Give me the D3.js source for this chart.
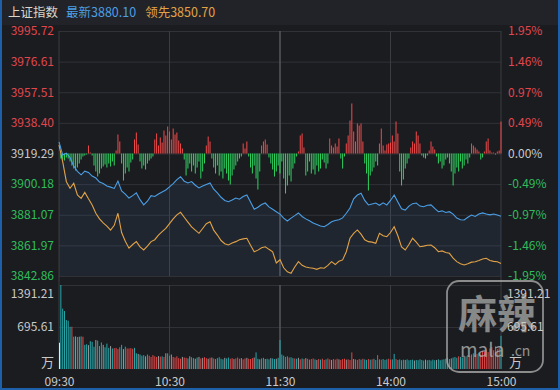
<!DOCTYPE html>
<html><head><meta charset="utf-8">
<script src="https://cdn.jsdelivr.net/npm/d3@7"></script>
<style>
html,body{margin:0;padding:0;background:#1b1c20;}
svg{display:block;}
text{font-family:"Noto Sans CJK SC","Noto Sans",sans-serif;}
</style></head><body>
<svg id="c" width="560" height="390"></svg>
<script>
// ---------- data ----------
const title = "上证指数";
const latestLabel = "最新3880.10";
const leadLabel = "领先3850.70";
const preClose = 3919.29;
const priceTicks = [3995.72, 3976.61, 3957.51, 3938.40, 3919.29, 3900.18, 3881.07, 3861.97, 3842.86];
const pctTicks = ["1.95%", "1.46%", "0.97%", "0.49%", "0.00%", "-0.49%", "-0.97%", "-1.46%", "-1.95%"];
const volTicks = [1391.21, 695.61];
const volUnit = "万";
const timeTicks = [0, 60, 120, 180, 240];
const timeLabels = ["09:30", "10:30", "11:30", "14:00", "15:00"];

// index (最新) sampled every 2 minutes, 121 points
const latest = [3926.6,3918.4,3919.5,3916.8,3911.5,3908.2,3906.0,3908.3,3907.5,3905.2,
3904.0,3901.5,3900.6,3899.0,3898.3,3897.5,3902.1,3896.0,3894.0,3891.5,
3893.0,3894.7,3890.5,3887.2,3889.5,3893.0,3892.5,3894.0,3895.3,3896.5,
3898.5,3900.5,3903.0,3904.8,3902.0,3900.9,3901.8,3899.5,3897.8,3899.0,
3900.0,3900.9,3897.0,3894.7,3892.0,3890.0,3889.2,3890.3,3891.5,3890.8,
3892.5,3893.4,3889.0,3884.5,3885.8,3887.5,3888.4,3886.0,3884.5,3883.0,
3881.5,3879.0,3877.2,3879.0,3880.5,3882.2,3880.0,3878.5,3877.3,3875.9,
3875.0,3874.0,3873.6,3875.0,3876.7,3877.5,3878.0,3879.1,3882.0,3885.3,
3891.0,3893.4,3894.5,3890.0,3887.2,3887.8,3888.4,3887.0,3888.5,3887.2,
3890.0,3893.4,3889.0,3884.8,3884.0,3886.5,3888.0,3888.4,3886.5,3886.1,
3887.0,3887.2,3885.0,3883.0,3883.5,3882.5,3883.0,3881.5,3879.0,3878.0,
3877.8,3879.5,3880.9,3880.0,3881.5,3882.2,3881.5,3881.0,3881.5,3880.9,3880.1];

// lead (领先) sampled every 2 minutes, 121 points
const lead = [3924.6,3914.2,3901.7,3897.6,3900.7,3893.4,3891.3,3895.0,3891.0,3887.2,
3882.0,3878.5,3876.0,3874.0,3871.5,3874.5,3882.0,3870.0,3864.5,3860.2,
3862.5,3864.3,3861.0,3859.1,3861.5,3864.3,3865.5,3868.4,3870.5,3872.6,
3875.5,3878.5,3881.0,3882.6,3879.5,3876.5,3873.5,3871.5,3869.5,3872.5,
3875.5,3876.7,3871.5,3868.4,3865.0,3863.0,3862.2,3863.5,3864.3,3865.5,
3866.0,3866.4,3862.0,3858.0,3859.0,3860.5,3861.1,3859.5,3858.0,3851.0,
3853.0,3848.0,3845.5,3844.6,3848.5,3851.8,3849.5,3848.5,3848.0,3847.7,
3847.0,3848.0,3847.7,3849.5,3851.8,3850.0,3852.0,3852.9,3858.0,3866.4,
3869.5,3871.6,3869.0,3865.5,3864.3,3864.0,3863.3,3869.5,3868.0,3867.4,
3870.0,3873.6,3868.0,3861.0,3859.1,3862.5,3866.4,3864.0,3861.1,3861.5,
3862.0,3862.2,3860.5,3858.0,3858.5,3857.5,3857.0,3854.0,3851.8,3850.5,
3849.7,3850.5,3851.5,3851.8,3852.5,3853.5,3853.9,3852.5,3852.0,3851.8,3850.7];

// buy/sell strength bars per minute (240), positive = red
const strength = [-5,-6,-7,-4,-5,-8,-12,-15,-17,-14,-10,-6,-3,-2,
-1,8,1,-2,
-12,-18,-23,-20,-15,-13,-11,-14,-10,-13,-8,-12,3,19,12,
-10,-27,-20,-14,-18,-9,-6,14,21,9,
-8,-15,-12,-16,-10,-7,-5,-3,
14,20,8,16,11,23,18,27,22,14,25,19,21,13,10,5,
-6,-22,-15,-10,-18,-12,-20,-14,-8,-25,-18,-10,
8,17,12,
-5,-14,-20,-12,-22,-18,-25,-15,-20,-27,-31,-22,-16,-12,-8,-5,-3,
10,5,12,
-3,-14,-20,-12,-25,-36,-18,
8,12,14,9,
-4,-10,-16,-23,-18,-12,-20,-8,-25,-40,-32,-22,-28,-15,-10,
-3,2,
18,20,6,
-22,-18,-8,-20,-16,-21,-12,-18,-15,-6,-9,-15,-10,
15,8,6,10,7,15,
-5,-15,-3,
10,18,33,50,22,12,30,28,30,12,
-10,-20,-37,-22,-18,-14,-8,-12,
10,25,8,3,9,10,11,18,12,32,20,
-18,-32,-26,-15,-10,-5,
6,12,10,22,18,10,
-2,-4,-5,-2,3,
12,7,4,
-3,-10,-8,-15,-12,-6,-4,-10,-18,-32,-20,-14,-18,-8,-15,-12,-6,-10,-4,
10,8,6,4,2,
-6,-4,
2,12,15,3,
1,1,-1,2,3,
32];

// volume (万) per minute, index 0 = opening auction, 241 values
const volume = [435,
1391,1000,960,810,800,700,700,535,
540,530,535,540,535,
400,410,395,460,450,370,480,470,380,
440,400,360,420,350,380,
340,345,350,330,
360,400,330,370,340,
340,345,335,350,
260,250,240,220,230,210,240,220,200,230,210,200,215,205,210,200,260,
260,220,240,
200,190,210,180,170,200,190,185,175,210,195,180,170,190,200,175,185,195,180,
170,185,190,175,165,180,195,170,160,185,175,190,170,180,165,175,190,170,180,160,
175,185,170,165,180,190,275,170,160,175,185,165,170,160,180,175,165,170,185,
480,
240,220,200,210,190,195,180,175,170,185,160,175,165,180,170,155,165,175,160,150,
165,155,170,150,160,175,160,150,165,155,170,160,150,165,170,155,160,150,275,165,
160,150,165,155,170,160,150,165,155,160,170,150,230,160,155,165,150,160,170,155,
160,250,165,150,160,145,155,150,160,145,150,155,140,150,145,160,150,140,155,145,
150,140,155,145,150,160,145,155,160,170,180,165,175,190,200,185,210,200,190,220,
210,230,215,240,260,230,250,270,240,300,290,320,280,340,360,310,375,330,350,550];

// volume direction per minute: u = up, d = down, f = flat
const volDir = ("f"+"dddddd"+"u"+"dfdfd"+"u"+"ddfdddfdddfdddfd"+"uuu"+"ddfd"+"uuuu"+"ddfdddfd"+"uuuuu"+
"fudufdufu"+"uuuufuu"+"dfddfdf"+"ufuufufu"+"dddddfdd"+"uufuuufuufuuufd"+"dfddfddfddfd"+"d"+
"ddududdudf"+"udufuduudfuduud"+"uufuuufuuufuuufuuu"+"duddududdududdduuddud"+
"dddfddddfdddddfdddddfddddd"+"ddfdddudd fduudduuduu".replace(" ","")+"uuuuuuuuud").split("");

// ---------- layout ----------
const W = 560, H = 390;
const L = 59, R = 501, T = 31, B = 276, VT = 285, VB = 369;
const C = {bg:"#1b1c20", head:"#222328", grid:"#303237", frame:"#3a3c41", red:"#e2474d", green:"#2fbd5b",
  white:"#c9c9c9", blue:"#4b9fe6", orange:"#e2a246", barRed:"#f04a4a", barGreen:"#2fd160",
  volUp:"#e24848", volDown:"#27a7a9", volFlat:"#9a9a9a"};

const svg = d3.select("#c");
svg.append("rect").attr("width", W).attr("height", H).attr("fill", C.bg);
svg.append("rect").attr("width", W).attr("height", 25).attr("fill", C.head);

const x = d3.scaleLinear().domain([0, 240]).range([L, R]);
const yP = d3.scaleLinear().domain([priceTicks[priceTicks.length-1], priceTicks[0]]).range([B, T]);
const yS = d3.scaleLinear().domain([-122.5, 122.5]).range([B, T]);
const yV = d3.scaleLinear().domain([0, volTicks[0]]).range([VB, VT]);

// header
const hd = svg.append("text").attr("x", 8).attr("y", 16.5).attr("font-size", 12.5);
hd.append("tspan").attr("fill", "#dcd5c8").text(title);
hd.append("tspan").attr("dx", 8).attr("fill", C.blue).text(latestLabel);
hd.append("tspan").attr("dx", 9).attr("fill", C.orange).text(leadLabel);

// grid main
const gGrid = svg.append("g").attr("transform", `translate(${L},0)`)
  .call(d3.axisRight(yP).tickValues(priceTicks).tickSize(R - L).tickFormat(""));
gGrid.select(".domain").remove();
gGrid.selectAll("line").attr("stroke", C.grid);

// volume grid
const gVGrid = svg.append("g").attr("transform", `translate(${L},0)`)
  .call(d3.axisRight(yV).tickValues(volTicks).tickSize(R - L).tickFormat(""));
gVGrid.select(".domain").remove();
gVGrid.selectAll("line").attr("stroke", C.grid);

// vertical grid lines
[60, 180].forEach(t => {
  svg.append("line").attr("x1", x(t)).attr("x2", x(t)).attr("y1", T).attr("y2", B).attr("stroke", "#3a3c41");
  svg.append("line").attr("x1", x(t)).attr("x2", x(t)).attr("y1", VT).attr("y2", VB).attr("stroke", "#3a3c41");
});
svg.append("line").attr("x1", x(120)).attr("x2", x(120)).attr("y1", T).attr("y2", B).attr("stroke", "#55575c").attr("stroke-width", 1.5);
svg.append("line").attr("x1", x(120)).attr("x2", x(120)).attr("y1", VT).attr("y2", VB).attr("stroke", "#55575c").attr("stroke-width", 1.5);
// frame
svg.append("line").attr("x1", L).attr("x2", L).attr("y1", T).attr("y2", VB).attr("stroke", C.frame);
svg.append("line").attr("x1", R).attr("x2", R).attr("y1", T).attr("y2", VB).attr("stroke", C.frame);

// area under latest
const xs = (d, i) => x(i * 2);
svg.append("path").datum(latest)
  .attr("d", d3.area().x(xs).y0(B).y1(d => yP(d)))
  .attr("fill", "rgba(70,125,195,0.10)");

// strength bars
svg.append("g").selectAll("rect").data(strength).join("rect")
  .attr("x", (d, i) => x(i + 1) - 0.5)
  .attr("width", 1)
  .attr("y", d => Math.min(yS(0), yS(d)))
  .attr("height", d => Math.max(0.6, Math.abs(yS(d) - yS(0))))
  .attr("fill", d => d >= 0 ? C.barRed : C.barGreen);

// lines
svg.append("path").datum(lead)
  .attr("d", d3.line().x(xs).y(d => yP(d)))
  .attr("fill", "none").attr("stroke", C.orange).attr("stroke-width", 1.1);
svg.append("path").datum(latest)
  .attr("d", d3.line().x(xs).y(d => yP(d)))
  .attr("fill", "none").attr("stroke", C.blue).attr("stroke-width", 1.1);

// volume bars
const volColor = (d, i) => i === 0 ? "#e8e8e8" : (volDir[i] === "u" ? C.volUp : volDir[i] === "f" ? C.volFlat : C.volDown);
svg.append("g").selectAll("rect").data(volume).join("rect")
  .attr("x", (d, i) => x(i) - 0.5 + (i === 0 ? 0.5 : 0))
  .attr("width", 1)
  .attr("y", d => yV(d))
  .attr("height", d => VB - yV(d))
  .attr("fill", volColor);

// left price axis
const colorFor = i => i < 4 ? C.red : (i === 4 ? C.white : C.green);
const gL = svg.append("g").attr("transform", `translate(${L},0)`)
  .call(d3.axisLeft(yP).tickValues(priceTicks).tickSize(0).tickPadding(5).tickFormat(d => d.toFixed(2)));
gL.select(".domain").remove();
gL.selectAll("text").attr("font-size", 12).attr("fill", (d, i) => colorFor(i))
  .attr("font-family", '"Noto Sans CJK SC","Noto Sans",sans-serif');

// right pct axis
const gR = svg.append("g").attr("transform", `translate(${R},0)`)
  .call(d3.axisRight(yP).tickValues(priceTicks).tickSize(0).tickPadding(7).tickFormat((d, i) => pctTicks[i]));
gR.select(".domain").remove();
gR.selectAll("text").attr("font-size", 12).attr("fill", (d, i) => colorFor(i))
  .attr("font-family", '"Noto Sans CJK SC","Noto Sans",sans-serif');

// watermark (behind right volume labels)
const wm = svg.append("g").attr("opacity", 0.8);
wm.append("rect").attr("x", 447).attr("y", 281).attr("width", 96).attr("height", 91).attr("rx", 12)
  .attr("fill", "none").attr("stroke", "#a9a9a9").attr("stroke-width", 1.8);
wm.append("text").attr("x", 497).attr("y", 328).attr("text-anchor", "middle").attr("font-size", 39)
  .attr("font-weight", "bold").attr("fill", "#a3a3a3").text("麻辣");
wm.append("text").attr("x", 460).attr("y", 357).attr("font-size", 19).attr("fill", "#b0b0b0")
  .attr("font-family", "Lato, sans-serif").text("mala");
wm.append("text").attr("x", 511).attr("y", 356).attr("font-size", 14).attr("fill", "#b0b0b0")
  .attr("font-family", "Lato, sans-serif").text(".cn");

// volume labels
const vLab = volTicks.map(v => ({v, t: v.toFixed(2)}));
[{ax: L - 5, anchor: "end"}, {ax: R + 6, anchor: "start"}].forEach(side => {
  svg.append("g").selectAll("text").data(vLab).join("text")
    .attr("x", side.ax).attr("y", d => Math.max(yV(d.v), VT + 9)).attr("dy", "0.35em")
    .attr("text-anchor", side.anchor).attr("font-size", 12).attr("fill", C.white).text(d => d.t);
  svg.append("text").attr("x", side.ax + (side.anchor === "end" ? 0 : 2)).attr("y", yV(0) - 7).attr("dy", "0.35em")
    .attr("text-anchor", side.anchor).attr("font-size", 13).attr("fill", C.white).text(volUnit);
});

// time axis
const gT = svg.append("g").attr("transform", `translate(0,${VB})`)
  .call(d3.axisBottom(x).tickValues(timeTicks).tickSize(0).tickPadding(8).tickFormat((d, i) => timeLabels[i]));
gT.select(".domain").remove();
gT.selectAll("text").attr("font-size", 12).attr("fill", C.white)
  .attr("font-family", '"Noto Sans CJK SC","Noto Sans",sans-serif');

// outer border
svg.append("path").attr("d", `M1,0 V${H-1} H${W-1} V0`).attr("fill", "none").attr("stroke", "#1d5fa8").attr("stroke-width", 2);
</script></body></html>
